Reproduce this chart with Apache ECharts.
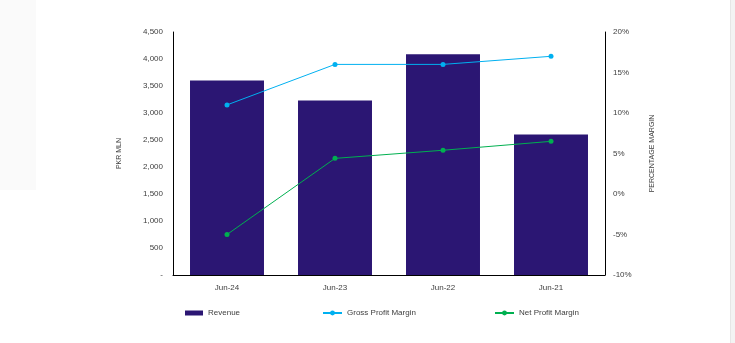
<!DOCTYPE html>
<html><head><meta charset="utf-8">
<script src="https://cdn.jsdelivr.net/npm/echarts@6/dist/echarts.min.js"></script>
<style>html,body{margin:0;padding:0;background:#fff}#c{width:735px;height:343px}</style>
</head><body><div id="c"></div>
<script>
const categories = ['Jun-24','Jun-23','Jun-22','Jun-21'];
const revenue = [3600, 3230, 4090, 2600];
const grossMargin = [11.0, 16.0, 16.0, 17.0];
const netMargin = [-5.0, 4.4, 5.4, 6.5];
const leftTicks = {min:0, max:4500, interval:500};
const rightTicks = {min:-10, max:20, interval:5};

const font = 'Liberation Sans, Arial, sans-serif';
const chart = echarts.init(document.getElementById('c'));
const lbl = {fontSize:8, color:'#404040', fontFamily:font};
chart.setOption({
  animation:false,
  graphic:[
    {type:'rect', shape:{x:0,y:0,width:36,height:190}, style:{fill:'#fafafa'}, z:-10},
    {type:'rect', shape:{x:730,y:0,width:1,height:343}, style:{fill:'#e6e6e6'}, z:-10},
    {type:'rect', shape:{x:731,y:0,width:4,height:343}, style:{fill:'#f3f3f3'}, z:-10}
  ],
  grid:{left:173, right:130, top:32, bottom:68, containLabel:false},
  legend:[
    {data:['Revenue'], left:185, top:309, padding:0, itemWidth:18, itemHeight:5, textStyle:lbl, icon:'rect'},
    {data:['Gross Profit Margin'], left:322, top:309, padding:0, itemWidth:19, itemHeight:6, textStyle:lbl},
    {data:['Net Profit Margin'], left:494, top:309, padding:0, itemWidth:19, itemHeight:6, textStyle:lbl}
  ],
  xAxis:{type:'category', data:categories,
    axisLine:{lineStyle:{color:'#000', width:1}}, axisTick:{show:false},
    axisLabel:Object.assign({margin:9}, lbl)},
  yAxis:[
    {type:'value', min:leftTicks.min, max:leftTicks.max, interval:leftTicks.interval,
     name:'PKR MLN', nameLocation:'middle', nameGap:50, nameRotate:90,
     nameTextStyle:{fontSize:7, color:'#404040', fontFamily:font},
     axisLine:{show:true, lineStyle:{color:'#000'}}, axisTick:{show:false}, splitLine:{show:false},
     axisLabel:Object.assign({margin:10, formatter:v=> v===0?'-':v.toLocaleString('en-US')}, lbl)},
    {type:'value', min:rightTicks.min, max:rightTicks.max, interval:rightTicks.interval,
     name:'PERCENTAGE MARGIN', nameLocation:'middle', nameGap:44, nameRotate:90,
     nameTextStyle:{fontSize:7, color:'#404040', fontFamily:font},
     axisLine:{show:true, lineStyle:{color:'#000'}}, axisTick:{show:false}, splitLine:{show:false},
     axisLabel:Object.assign({margin:8, formatter:v=>v+'%'}, lbl)}
  ],
  series:[
    {name:'Revenue', type:'bar', data:revenue, barWidth:'68.5%', itemStyle:{color:'#2B1673'}},
    {name:'Gross Profit Margin', type:'line', yAxisIndex:1, data:grossMargin,
     symbol:'circle', symbolSize:5, lineStyle:{color:'#00B0F0', width:1}, itemStyle:{color:'#00B0F0'}},
    {name:'Net Profit Margin', type:'line', yAxisIndex:1, data:netMargin,
     symbol:'circle', symbolSize:5, lineStyle:{color:'#00B050', width:1}, itemStyle:{color:'#00B050'}}
  ]
});
</script></body></html>
